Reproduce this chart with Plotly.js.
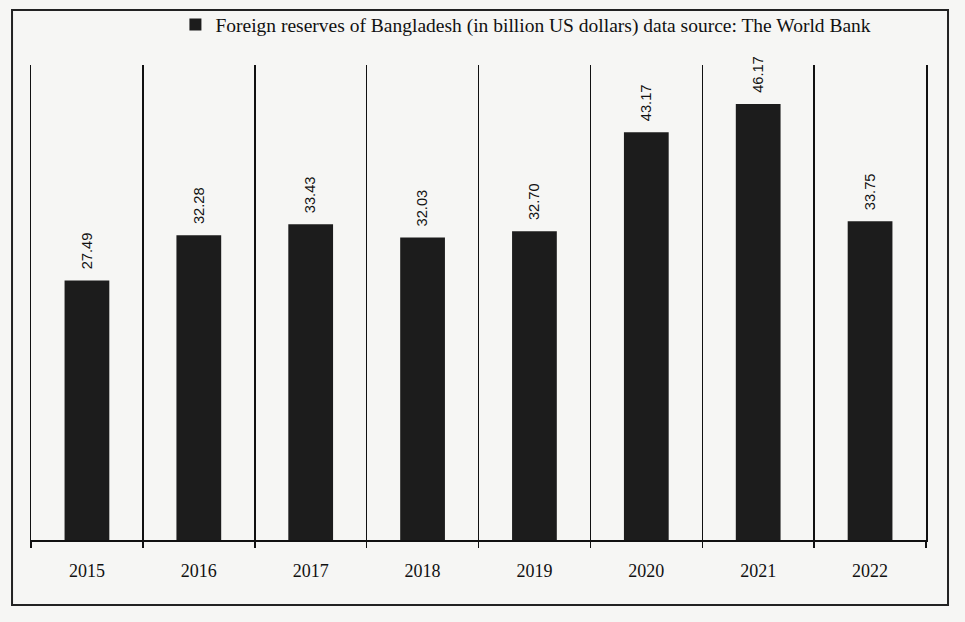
<!DOCTYPE html>
<html>
<head>
<meta charset="utf-8">
<script src="https://cdn.plot.ly/plotly-3.0.1.min.js"></script>
<style>html,body{margin:0;padding:0;background:#f6f6f4;}#chart{width:965px;height:622px;}</style>
</head>
<body>
<div id="chart"></div>
<script>
const years = ["2015","2016","2017","2018","2019","2020","2021","2022"];
const reserves = [27.49, 32.28, 33.43, 32.03, 32.70, 43.17, 46.17, 33.75];
const labels = ["27.49","32.28","33.43","32.03","32.70","43.17","46.17","33.75"];
const seriesName = "Foreign reserves of Bangladesh (in billion US dollars) data source: The World Bank";

const trace = {
  type: "bar",
  x: years,
  y: reserves,
  name: seriesName,
  text: labels,
  texttemplate: "\u00a0\u00a0%{text}",
  textposition: "outside",
  textangle: -90,
  cliponaxis: false,
  textfont: {family: "Liberation Sans, Arial, sans-serif", size: 17, color: "#111"},
  marker: {color: "#1c1c1c", line: {width: 0}},
  showlegend: true
};

const layout = {
  width: 965, height: 622,
  margin: {l: 31, r: 39, t: 65, b: 82, autoexpand: false},
  paper_bgcolor: "#f6f6f4",
  plot_bgcolor: "#f6f6f4",
  bargap: 0.6,
  showlegend: true,
  legend: {
    orientation: "h", xref: "container", yref: "container",
    x: 0.545, xanchor: "center", y: 0.96, yanchor: "middle",
    font: {family: "Liberation Serif, Times New Roman, serif", size: 19.5, color: "#111"},
    bgcolor: "rgba(0,0,0,0)", itemwidth: 30
  },
  xaxis: {
    type: "category",
    tickson: "boundaries",
    showgrid: true, gridcolor: "#111", gridwidth: 1.5,
    showline: true, linecolor: "#111", linewidth: 1.5,
    ticks: "outside", ticklen: 6, tickcolor: "#111", tickwidth: 1.5,
    ticklabelstandoff: 14,
    tickfont: {family: "Liberation Serif, Times New Roman, serif", size: 18, color: "#111"},
    zeroline: false, fixedrange: true
  },
  yaxis: {
    range: [0, 50.3], visible: true, showticklabels: false, ticks: "",
    showline: true, mirror: true, linecolor: "#111", linewidth: 1.5,
    showgrid: false, zeroline: false, fixedrange: true
  },
  shapes: [{
    type: "rect", xref: "paper", yref: "paper",
    x0: -0.0212, x1: 1.0246, y0: -0.137, y1: 1.116,
    line: {color: "#222", width: 2}
  }]
};

Plotly.newPlot("chart", [trace], layout, {displayModeBar: false, staticPlot: true});
</script>
</body>
</html>
